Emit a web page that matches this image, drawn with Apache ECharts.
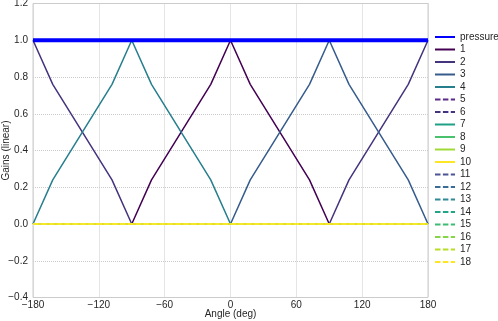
<!DOCTYPE html>
<html>
<head>
<meta charset="utf-8">
<script src="https://cdn.jsdelivr.net/npm/echarts@6/dist/echarts.min.js"></script>
<style>
  html, body { margin: 0; padding: 0; background: #fff; }
  #gains { width: 498px; height: 321px; }
</style>
</head>
<body>
<div id="gains"></div>
<script>
// panning gains vs angle
const angles = [-180, -162, -108, -90, -72, -18, 0, 18, 72, 90, 108, 162, 180]
const pressure = [1, 1, 1, 1, 1, 1, 1, 1, 1, 1, 1, 1, 1]
const gain1 = [0, 0, 0, 0, 0.24, 0.76, 1, 0.76, 0.24, 0, 0, 0, 0]
const gain2 = [1, 0.76, 0.24, 0, 0, 0, 0, 0, 0, 0, 0.24, 0.76, 1]
const gain3 = [0, 0, 0, 0, 0, 0, 0, 0.24, 0.76, 1, 0.76, 0.24, 0]
const gain4 = [0, 0.24, 0.76, 1, 0.76, 0.24, 0, 0, 0, 0, 0, 0, 0]
const silent = [0, 0, 0, 0, 0, 0, 0, 0, 0, 0, 0, 0, 0]   // channels 5..18
const channelNames = ['1', '2', '3', '4', '5', '6', '7', '8', '9', '10',
    '11', '12', '13', '14', '15', '16', '17', '18']
const channelColors = ['#440154', '#46337e', '#365c8d', '#277f8e', '#5b2a86', '#46337e',
    '#1fa187', '#4ac16d', '#a0da39', '#fde725',
    '#4b5594', '#3b6c96', '#2f8a96', '#22a486', '#3fbc73', '#86d549', '#b8de29', '#fde725']
const dashed = [false, false, false, false, true, true, false, false, false, false,
    true, true, true, true, true, true, true, true]
const xTicks = [-180, 180, 60]
const yTicks = [-0.4, 1.2, 0.2]

function minus(s) {
    return s.replace('-', '\u2212')
}

let channelData = [gain1, gain2, gain3, gain4]

let series = [{
    name: 'pressure',
    type: 'line',
    symbol: 'none',
    color: '#0000ff',
    lineStyle: { width: 4, color: '#0000ff' },
    data: angles.map((a, i) => [a, pressure[i]])
}]
channelNames.forEach((name, k) => {
    let vals = channelData[k] || silent
    series.push({
        name: name,
        type: 'line',
        symbol: 'none',
        color: channelColors[k],
        // the solid yellow one ends up on top of the flat zero bundle
        z: name === '10' ? 3 : 2,
        lineStyle: {
            width: 1.5,
            color: channelColors[k],
            type: dashed[k] ? [5.5, 2.4] : 'solid'
        },
        data: angles.map((a, i) => [a, vals[i]])
    })
})

let myChart = echarts.init(document.getElementById('gains'), null, { renderer: 'canvas' })
myChart.setOption({
    animation: false,
    textStyle: { fontFamily: 'Liberation Sans, Arial, sans-serif' },
    grid: {
        left: 33,
        right: 70,
        top: 3.5,
        bottom: 23.5,
        show: true,
        borderColor: '#cccccc',
        borderWidth: 1,
        outerBoundsMode: 'none',
        containLabel: false
    },
    legend: {
        orient: 'vertical',
        left: 434,
        top: 32,
        padding: 0,
        itemWidth: 20,
        itemHeight: 10,
        itemGap: 2.5,
        itemStyle: { opacity: 0 },
        textStyle: { fontSize: 10, color: '#262626', lineHeight: 10 },
        data: ['pressure'].concat(channelNames)
    },
    xAxis: {
        type: 'value',
        min: xTicks[0],
        max: xTicks[1],
        interval: xTicks[2],
        name: 'Angle (deg)',
        nameLocation: 'middle',
        nameGap: 12,
        nameMoveOverlap: false,
        nameTextStyle: { fontSize: 10, color: '#262626', verticalAlign: 'top' },
        axisLine: { show: false },
        axisTick: { show: false },
        axisLabel: { fontSize: 10, color: '#262626', margin: 3, formatter: v => minus(String(v)) },
        splitLine: { show: true, lineStyle: { color: '#cccccc', type: 'dotted', width: 1 } }
    },
    yAxis: {
        type: 'value',
        min: yTicks[0],
        max: yTicks[1],
        interval: yTicks[2],
        name: 'Gains (linear)',
        nameLocation: 'middle',
        nameGap: 22,
        nameMoveOverlap: false,
        nameTextStyle: { fontSize: 10, color: '#262626' },
        axisLine: { show: false },
        axisTick: { show: false },
        axisLabel: { fontSize: 10, color: '#262626', margin: 5, formatter: v => minus(v.toFixed(1)) },
        splitLine: { show: true, lineStyle: { color: '#cccccc', type: 'dotted', width: 1 } }
    },
    series: series
})
</script>
</body>
</html>
